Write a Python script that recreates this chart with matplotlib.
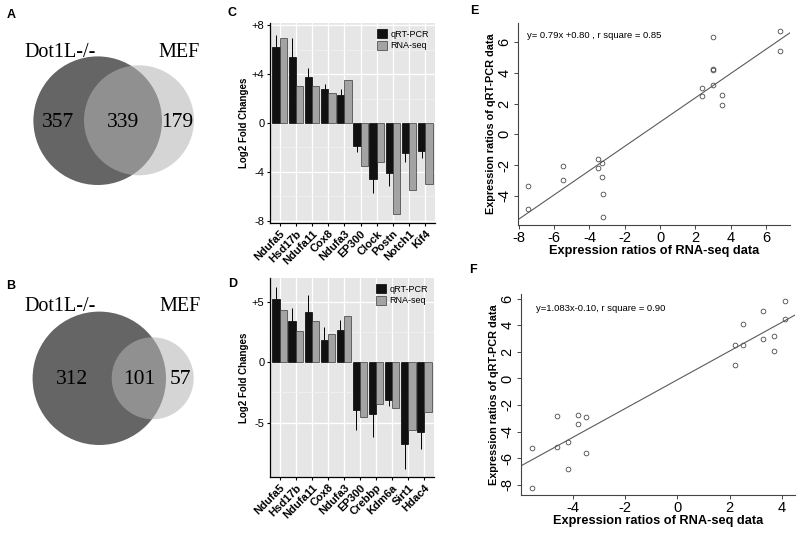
import matplotlib
matplotlib.use("Agg")
import matplotlib.pyplot as plt
from matplotlib.patches import Circle
import numpy as np

plt.rcParams['font.family'] = ['Liberation Sans', 'DejaVu Sans']
plt.rcParams['axes.unicode_minus'] = False

# Venn counts: only Dot1L-/-, shared, only MEF
venn_a = [357, 339, 179]
venn_b = [312, 101, 57]
venn_names = ["Dot1L-/-", "MEF"]

# panel C
genes_c = ["Ndufa5", "Hsd17b", "Ndufa11", "Cox8", "Ndufa3",
           "EP300", "Clock", "Postn", "Notch1", "Kif4"]
qpcr_c = [6.2, 5.4, 3.8, 2.8, 2.3, -1.9, -4.6, -4.1, -2.5, -2.3]
qpcr_c_errend = [7.2, 7.0, 4.5, 3.2, 2.8, -2.35, -5.75, -5.2, -3.2, -2.9]
rnaseq_c = [7.0, 3.0, 3.0, 2.45, 3.5, -3.5, -3.2, -7.45, -5.5, -5.0]

# panel D
genes_d = ["Ndufa5", "Hsd17b", "Ndufa11", "Cox8", "Ndufa3",
           "EP300", "Crebbp", "Kdm6a", "Sirt1", "Hdac4"]
qpcr_d = [5.2, 3.37, 4.1, 1.8, 2.65, -3.95, -4.3, -3.1, -6.75, -5.8]
qpcr_d_errend = [6.2, 4.5, 5.55, 2.9, 3.5, -5.65, -6.2, -3.6, -8.8, -7.2]
rnaseq_d = [4.3, 2.6, 3.4, 2.3, 3.8, -4.55, -3.5, -3.8, -5.6, -4.15]

# panel E scatter
rna_e = [6.79, 6.79, 3.0, 3.0, 3.0, 3.0, 2.39, 2.39, 3.5, 3.5,
         -7.49, -7.49, -5.5, -5.5, -3.51, -3.51, -3.3, -3.3, -3.23, -3.23]
pcr_e = [6.76, 5.41, 6.33, 4.28, 4.22, 3.2, 3.04, 2.52, 2.59, 1.93,
         -3.39, -4.87, -2.09, -3.0, -1.59, -2.22, -1.87, -2.76, -3.87, -5.41]
fit_e = (0.79, 0.80)

# panel F scatter
rna_f = [4.12, 4.12, 3.29, 2.52, 2.2, 2.52, 2.2, 3.29, 3.7, 3.7,
         -5.58, -5.58, -4.61, -4.61, -4.2, -4.2, -3.8, -3.8, -3.5, -3.5]
pcr_f = [5.8, 4.44, 5.05, 4.07, 2.53, 2.53, 1.03, 2.98, 3.16, 2.03,
         -5.23, -8.22, -2.82, -5.16, -4.8, -6.79, -2.79, -3.45, -2.94, -5.61]
fit_f = (1.083, -0.10)

W, H = 800, 537
fig = plt.figure(figsize=(8, 5.37), dpi=100)


def px_axes(left, top, right, bottom):
    return fig.add_axes([left / W, (H - bottom) / H, (right - left) / W, (bottom - top) / H])


def venn(ax, counts, big, small, name_pos, num_pos):
    ax.add_patch(Circle(big[:2], big[2], color='#656565', lw=0))
    ax.add_patch(Circle(small[:2], small[2], color='#b4b4b4', alpha=0.55, lw=0))
    for name, (x, y) in zip(venn_names, name_pos):
        ax.text(x, y, name, family='Liberation Serif', fontsize=14.5, ha='center', va='baseline')
    for n, (x, y) in zip(counts, num_pos):
        ax.text(x, y, str(n), family='Liberation Serif', fontsize=15.5, ha='center', va='center')


axv = fig.add_axes([0, 0, 215 / W, 1])
axv.set_xlim(0, 215)
axv.set_ylim(H, 0)
axv.axis('off')
venn(axv, venn_a, (97.7, 120.7, 64.3), (139, 120.3, 55),
     [(60.5, 57), (179, 57)], [(58, 122.5), (122.5, 122.5), (177.5, 122.5)])
venn(axv, venn_b, (99.3, 378.3, 66.7), (152.7, 378.3, 41),
     [(60, 311), (179.7, 311)], [(72.3, 379), (139, 379), (180, 379)])


def bar_panel(ax, genes, qpcr, errend, rnaseq, ylim, ticks, ticklabels):
    x = np.arange(1, len(genes) + 1)
    w = 0.45
    ax.set_facecolor('#e6e6e6')
    ax.bar(x - w / 2, qpcr, w, color='#111111', edgecolor='black', lw=0.5, label='qRT-PCR', zorder=3)
    ax.bar(x + w / 2, rnaseq, w, color='#a3a3a3', edgecolor='#3a3a3a', lw=0.5, label='RNA-seq', zorder=3)
    ax.vlines(x - w / 2, qpcr, errend, color='black', lw=0.7, zorder=4)
    ax.set_xlim(0.4, len(genes) + 0.6)
    ax.set_ylim(*ylim)
    ax.set_yticks(ticks)
    ax.set_yticklabels(ticklabels)
    mid = [(a + b) / 2 for a, b in zip(ticks[:-1], ticks[1:])]
    ax.set_yticks(mid, minor=True)
    ax.tick_params(axis='y', which='minor', length=0)
    ax.set_xticks(x)
    ax.set_xticklabels(genes, rotation=45, ha='right', rotation_mode='anchor',
                       fontsize=9.5, fontweight='bold')
    ax.grid(True, which='major', color='white', lw=0.9)
    ax.grid(True, which='minor', axis='y', color='#f3f3f3', lw=0.5)
    ax.set_axisbelow(True)
    for s in ['top', 'right']:
        ax.spines[s].set_visible(False)
    for s in ['left', 'bottom']:
        ax.spines[s].set_linewidth(0.9)
    ax.tick_params(which='major', length=2.5, width=0.8, labelsize=8, pad=1.5)
    ax.set_ylabel('Log2 Fold Changes', fontsize=7, fontweight='bold', labelpad=2)
    ax.legend(loc='upper right', frameon=False, fontsize=6.5, handlelength=1.1,
              handleheight=1.1, borderaxespad=0.3, labelspacing=0.25, handletextpad=0.4)


axc = px_axes(270, 23, 435, 223)
bar_panel(axc, genes_c, qpcr_c, qpcr_c_errend, rnaseq_c, (-8.2, 8.2),
          [-8, -4, 0, 4, 8], ['-8', '-4', '0', '+4', '+8'])
axd = px_axes(270, 278, 434, 477)
bar_panel(axd, genes_d, qpcr_d, qpcr_d_errend, rnaseq_d, (-9.5, 6.95),
          [-5, 0, 5], ['-5', '0', '+5'])


def scatter_panel(ax, xs, ys, fit, xlim, ylim, xticks, yticks, txt, txtpos):
    ax.plot(xs, ys, 'o', mfc='none', mec='#4a4a4a', ms=3.4, mew=0.6)
    ax.axline((0, fit[1]), slope=fit[0], color='#5a5a5a', lw=0.8)
    ax.set_xlim(*xlim)
    ax.set_ylim(*ylim)
    ax.set_xticks(xticks)
    ax.set_yticks(yticks)
    ax.set_yticklabels([str(v) for v in yticks], rotation=90, va='center')
    for s in ['top', 'right']:
        ax.spines[s].set_visible(False)
    for s in ['left', 'bottom']:
        ax.spines[s].set_color('#444444')
        ax.spines[s].set_linewidth(0.8)
    ax.tick_params(length=3, width=0.7, color='#444444', labelsize=10.5, pad=1.5)
    ax.set_xlabel('Expression ratios of RNA-seq data', fontsize=9.2, fontweight='bold', labelpad=0)
    ax.set_ylabel('Expression ratios of qRT-PCR data', fontsize=7.8, fontweight='bold', labelpad=1)
    ax.text(txtpos[0], txtpos[1], txt, transform=ax.transAxes, fontsize=6.8, va='center')


axe = px_axes(517.7, 23, 790, 225)
scatter_panel(axe, rna_e, pcr_e, fit_e, (-8.06, 7.36), (-5.9, 7.25),
              range(-8, 7, 2), list(range(-4, 7, 2)),
              'y= 0.79x +0.80 , r square = 0.85', (0.033, 0.94))
axf = px_axes(520.7, 294, 795, 495)
scatter_panel(axf, rna_f, pcr_f, fit_f, (-6.0, 4.5), (-8.78, 6.36),
              range(-4, 5, 2), list(range(-8, 7, 2)),
              'y=1.083x-0.10, r square = 0.90', (0.056, 0.93))

for lab, x, y in [('A', 11, 15), ('B', 11, 286), ('C', 232, 13),
                  ('D', 233, 284), ('E', 474, 11), ('F', 473, 270)]:
    fig.text(x / W, (H - y) / H, lab, fontsize=9, fontweight='bold', ha='center', va='center')

fig.savefig('out.png', dpi=100)
